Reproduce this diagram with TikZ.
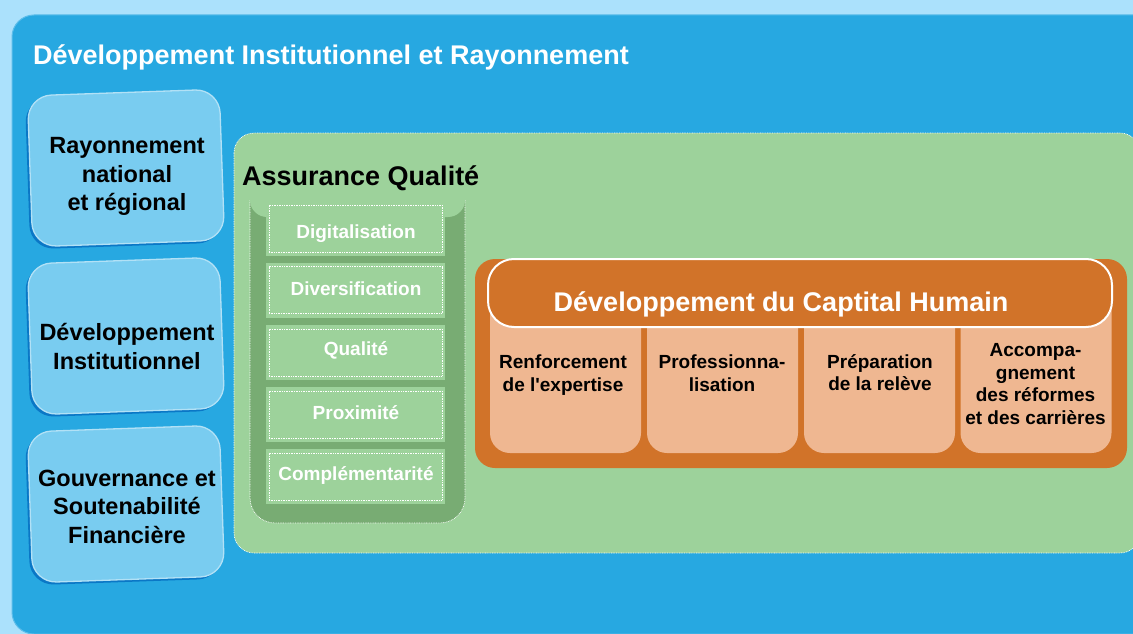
\documentclass[tikz,border=0pt]{standalone}
\usepackage{fontspec}
\setmainfont{Liberation Sans}
\usetikzlibrary{shadows}
\newcommand\straightq{\XeTeXglyph\XeTeXcharglyph"27\relax}
\definecolor{bgblue}{HTML}{ABE1FC}
\definecolor{mainblue}{HTML}{27A8E1}
\definecolor{mainedge}{HTML}{5CBDEA}
\definecolor{lboxfill}{HTML}{79CCF0}
\definecolor{lboxedge}{HTML}{B2E1F6}
\definecolor{lboxshadow}{HTML}{0A77C6}
\definecolor{lgreen}{HTML}{9DD29B}
\definecolor{dgreen}{HTML}{78AC73}
\definecolor{orangep}{HTML}{D17329}
\definecolor{peach}{HTML}{EFB791}
\begin{document}
\begin{tikzpicture}[x=1pt,y=-1pt,
  dots/.style={draw=white, line width=0.7pt, dash pattern=on 0.8pt off 0.9pt},
  lbox/.style={draw=lboxedge, line width=1.3pt, fill=lboxfill, rounded corners=24pt,
    minimum width=192pt, minimum height=151pt, inner sep=0pt, rotate=2,
    drop shadow={shadow xshift=-2.5pt, shadow yshift=-2.5pt, fill=lboxshadow, opacity=1}},
  ltext/.style={font=\fontsize{23.5}{28.7}\selectfont\bfseries, align=center, inner sep=0pt},
  aqbox/.style={fill=lgreen, minimum width=179pt, minimum height=55pt, inner sep=0pt},
  aqdot/.style={dots, minimum width=173pt, minimum height=47pt, inner sep=0pt},
  aqtext/.style={font=\fontsize{19}{22}\selectfont\bfseries, text=white, inner sep=0pt, anchor=base},
  pcol/.style={fill=peach, rounded corners=20pt, minimum width=151pt, minimum height=173pt, inner sep=0pt},
  ptext/.style={font=\fontsize{19}{22.5}\selectfont\bfseries, align=center, inner sep=0pt},
  bigtext/.style={font=\fontsize{27}{32}\selectfont\bfseries, inner sep=0pt, anchor=base}
]
\useasboundingbox (0,0) rectangle (1133,634);
\clip (0,0) rectangle (1133,634);
\fill[bgblue] (0,0) rectangle (1133,634);
% main blue panel
\draw[draw=mainedge, line width=1pt, fill=mainblue, rounded corners=22pt] (12,15) rectangle (1175,634);
\node[bigtext, text=white, anchor=base west] (title) at (33,64.5) {Développement Institutionnel et Rayonnement};

% left boxes
\node[lbox] (b1) at (126,168) {};
\node[ltext] (t1) at (127,176.7) {Rayonnement\\national\\et régional};
\node[lbox] (b2) at (126,336) {};
\node[ltext] (t2) at (127,346.8) {Développement\\Institutionnel};
\node[lbox] (b3) at (126,504) {};
\node[ltext] (t3) at (127,506.8) {Gouvernance et\\Soutenabilité\\Financière};

% green panel
\draw[dots, fill=lgreen, rounded corners=20pt] (234,133) rectangle (1140,553);

% quality column
\begin{scope}
\clip (240,200) rectangle (480,600);
\draw[dots, fill=dgreen, rounded corners=25pt] (250,160) rectangle (465,523);
\end{scope}
\fill[lgreen, rounded corners=17pt] (250,150) rectangle (465,217);
\node[bigtext, text=black, anchor=base west] (aq) at (242,185) {Assurance Qualité};

\node[aqbox] (r1) at (355.5,228.5) {};
\node[aqdot] (d1) at (r1) {};
\node[aqtext] (q1) at (356,238.3) {Digitalisation};
\node[aqbox] (r2) at (355.5,290) {};
\node[aqdot] (d2) at (r2) {};
\node[aqtext] (q2) at (356,295) {Diversification};
\node[aqbox] (r3) at (355.5,352.5) {};
\node[aqdot] (d3) at (r3) {};
\node[aqtext] (q3) at (356,355) {Qualité};
\node[aqbox] (r4) at (355.5,414.5) {};
\node[aqdot] (d4) at (r4) {};
\node[aqtext] (q4) at (356,419.3) {Proximité};
\node[aqbox] (r5) at (355.5,476.5) {};
\node[aqdot] (d5) at (r5) {};
\node[aqtext] (q5) at (356,480) {Complémentarité};

% orange panel
\fill[orangep, rounded corners=20pt] (475,259) rectangle (1127,468);
\node[pcol] (c1) at (565.5,366.5) {};
\node[pcol] (c2) at (722.5,366.5) {};
\node[pcol] (c3) at (879.5,366.5) {};
\node[pcol] (c4) at (1036,366.5) {};
\node[draw=white, line width=2pt, fill=orangep, rounded corners=26pt,
      minimum width=624pt, minimum height=68pt, inner sep=0pt] (hdr) at (800,293) {};
\node[bigtext, text=white] (hdrt) at (781,311) {Développement du Captital Humain};

\node[ptext] (p1) at (563,375.3) {Renforcement\\de l\straightq expertise};
\node[ptext] (p2) at (722,373.3) {Professionna-\\lisation};
\node[ptext] (p3) at (880,372.8) {Préparation\\de la relève};
\node[ptext] (p4) at (1035.5,384) {Accompa-\\gnement\\des réformes\\et des carrières};
\end{tikzpicture}
\end{document}
